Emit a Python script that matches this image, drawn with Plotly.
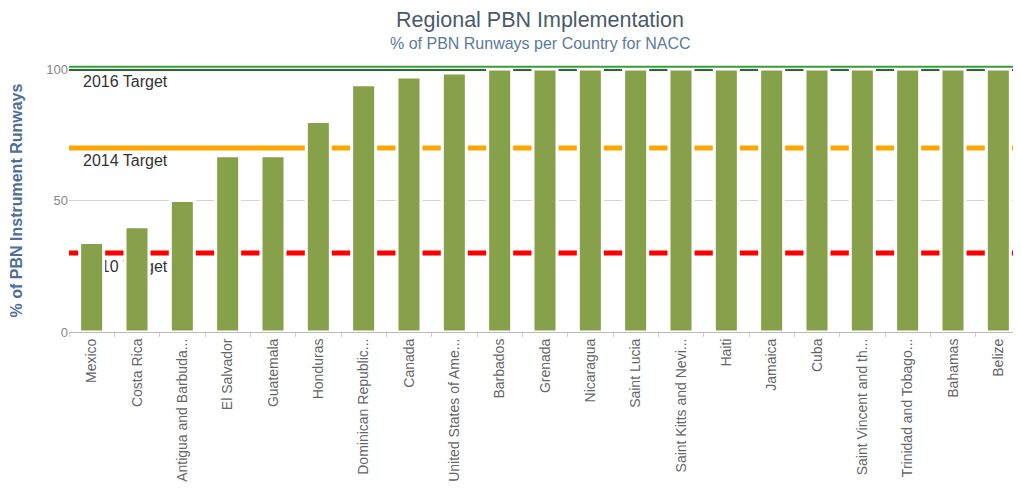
import plotly.graph_objects as go

countries = [
    "Mexico", "Costa Rica", "Antigua and Barbuda...", "El Salvador", "Guatemala",
    "Honduras", "Dominican Republic...", "Canada", "United States of Ame...",
    "Barbados", "Grenada", "Nicaragua", "Saint Lucia", "Saint Kitts and Nevi...",
    "Haiti", "Jamaica", "Cuba", "Saint Vincent and th...", "Trinidad and Tobago...",
    "Bahamas", "Belize",
]
pbn_percent = [34, 40, 50, 67, 67, 80, 94, 97, 98.5,
               100, 100, 100, 100, 100, 100, 100, 100, 100, 100, 100, 100]

target_names = ["2016 Target", "2014 Target", "2010 Target"]
target_values = [100, 70, 30]
target_colors = ["#1f6f2a", "#ffa500", "#ff0000"]

BAR_COLOR = "#87a14a"
FONT = "Liberation Sans, Arial, sans-serif"
N = len(countries)

fig = go.Figure()

# target labels on the base subplot so that the bars (overlay subplot) cover them
fig.add_trace(go.Scatter(
    x=[-0.19] * len(target_names),
    y=[v - 5.5 for v in target_values],
    mode="text",
    text=target_names,
    textposition="middle right",
    textfont=dict(family=FONT, size=16, color="#333333"),
    xaxis="x", yaxis="y",
    hoverinfo="skip", showlegend=False, cliponaxis=False,
))

fig.add_trace(go.Bar(
    x=countries, y=pbn_percent,
    marker=dict(color=BAR_COLOR, line=dict(color="white", width=3)),
    width=0.53,
    xaxis="x2", yaxis="y2",
    showlegend=False,
))

shapes = []
for v, c in zip(target_values, target_colors):
    shapes.append(dict(type="line", xref="paper", yref="y", x0=0, x1=1, y0=v, y1=v,
                       line=dict(color=c, width=5 if v != 100 else 4), layer="below"))
shapes.append(dict(type="line", xref="paper", yref="paper", x0=0, x1=1, y0=1.009, y1=1.009,
                   line=dict(color="#3c9a3c", width=2), layer="above"))

fig.update_layout(
    width=1013, height=488,
    margin=dict(l=61, r=0, t=61, b=164),
    paper_bgcolor="white", plot_bgcolor="white",
    font=dict(family=FONT),
    shapes=shapes,
    xaxis=dict(range=[-0.5, N - 0.5], visible=False, showgrid=False, zeroline=False),
    xaxis2=dict(
        type="category", categoryorder="array", categoryarray=countries,
        range=[-0.5, N - 0.5], overlaying="x", side="bottom", anchor="y2",
        tickangle=-90, tickfont=dict(size=14, color="#666666", family=FONT),
        ticks="outside", tickson="boundaries", ticklen=4, tickcolor="#cccccc",
        showline=True, linecolor="#bbbbbb", linewidth=1, showgrid=False,
    ),
    yaxis=dict(
        range=[0, 100], dtick=50, showgrid=True, gridcolor="#d3d3d3", gridwidth=1,
        zeroline=False, showline=False,
        tickfont=dict(size=13, color="#888888", family=FONT),
        title=dict(text="<b>% of PBN Instrument Runways</b>",
                   font=dict(size=16, color="#4f6f98", family=FONT), standoff=22),
    ),
    yaxis2=dict(range=[0, 100], overlaying="y", anchor="x2", visible=False, showgrid=False),
    annotations=[
        dict(text="Regional PBN Implementation", xref="paper", yref="paper",
             x=(532 - 61) / 952, y=1 + (61 - 12) / 263, xanchor="center", yanchor="middle",
             showarrow=False, borderpad=0,
             font=dict(size=21.5, color="#4a5a6c", family=FONT)),
        dict(text="% of PBN Runways per Country for NACC", xref="paper", yref="paper",
             x=(532 - 61) / 952, y=1 + (61 - 36) / 263, xanchor="center", yanchor="middle",
             showarrow=False, borderpad=0,
             font=dict(size=16, color="#5b7a9c", family=FONT)),
    ],
)

fig.write_html("out.html")
